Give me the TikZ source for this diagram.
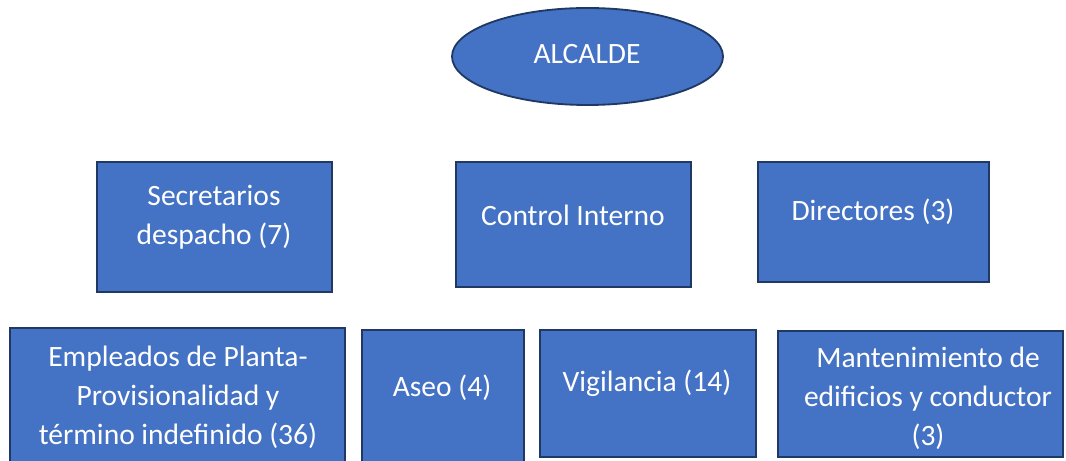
\documentclass[tikz,border=0pt]{standalone}
\usepackage{fontspec}
\setmainfont{Carlito}
\usepackage{tikz}
\usetikzlibrary{shapes.geometric}
\definecolor{unitblue}{HTML}{4472C4}
\definecolor{unitedge}{HTML}{1F3864}

\begin{document}
\begin{tikzpicture}[
	unit/.style={rectangle, draw=unitedge, fill=unitblue, line width=1.3pt, inner sep=0pt},
	head/.style={ellipse, draw=unitedge, fill=unitblue, line width=1.3pt, inner sep=0pt},
	lbl/.style={text=white, align=center, inner sep=0pt, font=\fontsize{21}{27.8}\selectfont}
]
	\useasboundingbox (0,0) rectangle (26.65,11.525);
	\clip (0,0) rectangle (26.65,11.525);

	% Top of the chart
	\node [head, minimum width=6.775cm, minimum height=2.425cm] (alc) at (14.6875, 10.1125) {};
	\node [lbl] (alc-t) at (14.675, 10.175) {ALCALDE};

	% Second level
	\node [unit, minimum width=5.875cm, minimum height=3.25cm] (sec) at (5.3625, 5.85) {};
	\node [lbl] (sec-t) at (5.35, 6.0875) {Secretarios\\despacho (7)};
	\node [unit, minimum width=5.875cm, minimum height=3.125cm] (ctrl) at (14.3375, 5.9125) {};
	\node [lbl] (ctrl-t) at (14.325, 6.15) {Control Interno};
	\node [unit, minimum width=5.775cm, minimum height=3cm] (dir) at (21.8375, 5.975) {};
	\node [lbl] (dir-t) at (21.825, 6.225) {Directores (3)};

	% Third level
	\node [unit, minimum width=8.375cm, minimum height=3.55cm] (emp) at (4.4375, 1.55) {};
	\node [lbl] (emp-t) at (4.45, 1.6) {Empleados de Planta-\\Provisionalidad y\\término indefinido (36)};
	\node [unit, minimum width=4.05cm, minimum height=3.5cm] (aseo) at (11.075, 1.525) {};
	\node [lbl] (aseo-t) at (11.05, 1.825) {Aseo (4)};
	\node [unit, minimum width=5.4cm, minimum height=3.175cm] (vig) at (16.2, 1.6875) {};
	\node [lbl] (vig-t) at (16.175, 1.95) {Vigilancia (14)};
	\node [unit, minimum width=7.125cm, minimum height=3.15cm] (mant) at (23.0125, 1.675) {};
	\node [lbl] (mant-t) at (23.2, 1.575) {Mantenimiento de\\edificios y conductor\\(3)};
\end{tikzpicture}
\end{document}
